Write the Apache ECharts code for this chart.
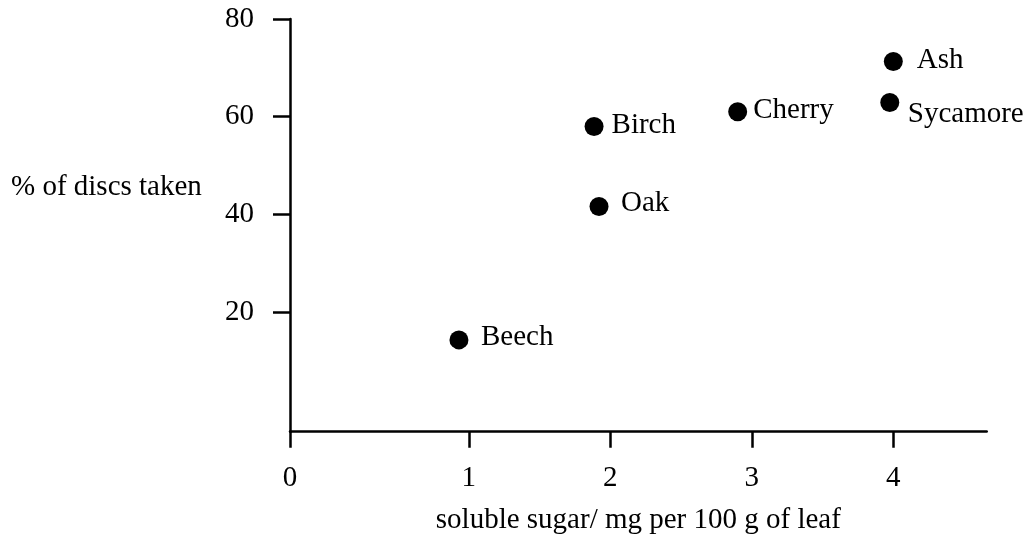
<!DOCTYPE html>
<html><head><meta charset="utf-8">
<script src="https://cdn.jsdelivr.net/npm/echarts@6/dist/echarts.min.js"></script>
<style>html,body{margin:0;padding:0;background:#fff}#c{width:1029px;height:546px}</style>
</head><body><div id="c"></div>
<script>
// ---- data ----
const trees = ['Beech', 'Birch', 'Oak', 'Cherry', 'Ash', 'Sycamore'];
const sugar = [0.93, 1.885, 1.92, 2.90, 4.0, 3.975];      // soluble sugar / mg per 100 g of leaf
const discsTaken = [14.3, 58.0, 41.6, 61.0, 71.3, 62.9];   // % of discs taken
const xTickValues = [0, 1, 2, 3, 4];
const xTickLabels = ['0', '1', '2', '3', '4'];
const yTickValues = [20, 40, 60, 80];
const yTickLabels = ['20', '40', '60', '80'];
const xTitle = 'soluble sugar/ mg per 100 g of leaf';
const yTitle = '% of discs taken';

// ---- styling ----
const FONT = '"Liberation Serif", "Times New Roman", serif';
const FS = 29;
const LW = 2.5;
const X_MIN = -0.264, X_MAX = 4.66;   // axis drawn as in the original (origin marked "0")
const Y_MIN = -4.5, Y_MAX = 80;
const labelNudge = {
  Beech:    { distance: 12.5, offset: [0, -2] },
  Birch:    { distance: 8,    offset: [0, -1.5] },
  Oak:      { distance: 12.5, offset: [0, -3.5] },
  Cherry:   { distance: 6,    offset: [0, -1] },
  Ash:      { distance: 14,   offset: [0, -1.5] },
  Sycamore: { distance: 8.5,  offset: [0, 11.5] }
};

const xAxisPos = xTickValues.map(v => v === 0 ? X_MIN : v);

const chart = echarts.init(document.getElementById('c'), null, { renderer: 'canvas' });
chart.setOption({
  backgroundColor: '#fff',
  animation: false,
  textStyle: { fontFamily: FONT, color: '#000' },
  title: {
    text: yTitle, left: 11, top: 173, padding: 0,
    textStyle: { fontFamily: FONT, fontSize: FS, fontWeight: 'normal', color: '#000' }
  },
  grid: { left: 290, right: 42.3, top: 19, bottom: 114.3, containLabel: false },
  xAxis: {
    type: 'value', min: X_MIN, max: X_MAX,
    name: xTitle, nameLocation: 'middle', nameGap: 74,
    nameTextStyle: { fontFamily: FONT, fontSize: FS, color: '#000' },
    axisLine: { show: true, onZero: false, lineStyle: { color: '#000', width: LW } },
    axisTick: { show: true, inside: false, length: 16, customValues: xAxisPos,
                lineStyle: { color: '#000', width: LW } },
    axisLabel: { show: true, margin: 32, customValues: xAxisPos,
                 fontFamily: FONT, fontSize: FS, color: '#000',
                 formatter: v => { const i = xAxisPos.indexOf(v); return i >= 0 ? xTickLabels[i] : ''; } },
    splitLine: { show: false }
  },
  yAxis: {
    type: 'value', min: Y_MIN, max: Y_MAX,
    axisLine: { show: true, onZero: false, lineStyle: { color: '#000', width: LW } },
    axisTick: { show: true, inside: false, length: 17, customValues: yTickValues,
                lineStyle: { color: '#000', width: LW } },
    axisLabel: { show: true, margin: 36, customValues: yTickValues,
                 fontFamily: FONT, fontSize: FS, color: '#000',
                 formatter: v => { const i = yTickValues.indexOf(v); return i >= 0 ? yTickLabels[i] : ''; } },
    splitLine: { show: false }
  },
  series: [{
    type: 'scatter',
    symbol: 'circle',
    symbolSize: 19,
    itemStyle: { color: '#000', opacity: 1 },
    label: { show: true, position: 'right', fontFamily: FONT, fontSize: FS, color: '#000',
             opacity: 1, formatter: p => p.name },
    emphasis: { disabled: true },
    data: trees.map((n, i) => ({
      name: n,
      value: [sugar[i], discsTaken[i]],
      label: Object.assign({ color: '#000', opacity: 1 }, labelNudge[n])
    }))
  }]
});
</script>
</body></html>
